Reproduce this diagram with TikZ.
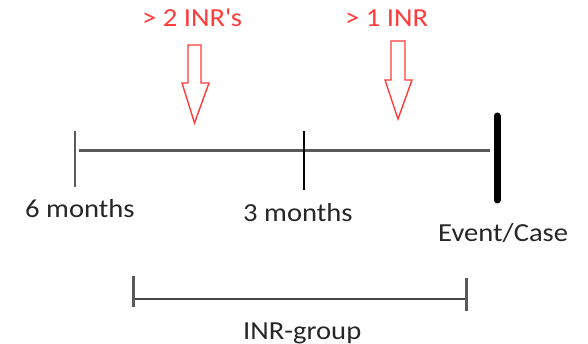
\documentclass[tikz,border=0pt]{standalone}
\usepackage{fontspec}
\setmainfont{Carlito}[FakeStretch=1.1]
\definecolor{inkred}{HTML}{FF3B3B}
\definecolor{axisgray}{HTML}{595959}
\definecolor{labelink}{HTML}{262626}
\tikzset{
  lbl/.style={font=\fontsize{26}{26}\selectfont, text=labelink, inner sep=0pt, anchor=base west},
  redlbl/.style={font=\fontsize{26}{26}\selectfont, text=inkred, inner sep=0pt, anchor=base west},
  hollowarrow/.style={draw=inkred, line width=1.4pt, fill=white, line join=miter},
  axis/.style={draw=axisgray, line width=3pt},
}
\begin{document}
\begin{tikzpicture}[x=1pt,y=-1pt]
  \useasboundingbox (0,0) rectangle (588,344);
  % timeline
  \coordinate (start) at (79,151);
  \coordinate (stop) at (490,151);
  \coordinate (sixtop) at (75,131);
  \coordinate (sixbot) at (75,187);
  \coordinate (threetop) at (304,131);
  \coordinate (threebot) at (304,190);
  \coordinate (eventtop) at (497,116);
  \coordinate (eventbot) at (497,200);
  \draw[axis] (start) -- (stop);
  \draw[draw=axisgray, line width=2.6pt] (sixtop) -- (sixbot);
  \draw[draw=black, line width=1.3pt] (threetop) -- (threebot);
  \draw[draw=black, line width=7pt, line cap=round] (eventtop) -- (eventbot);
  % labels
  \node[lbl] (six) at (25,218) {6 months};
  \node[lbl] (three) at (243,222) {3 months};
  \node[lbl] (event) at (438,242) {Event/Case};
  % group bracket
  \coordinate (gl) at (133,299);
  \coordinate (gr) at (466,299);
  \coordinate (gltop) at (133,276);
  \coordinate (glbot) at (133,307);
  \coordinate (grtop) at (466,278);
  \coordinate (grbot) at (466,311);
  \draw[draw=axisgray!80!black, line width=2pt] (gl) -- (gr);
  \draw[draw=axisgray, line width=3pt] (gltop) -- (glbot);
  \draw[draw=axisgray, line width=3pt] (grtop) -- (grbot);
  \node[lbl] (group) at (243,339) {INR-group};
  % red annotations
  \node[redlbl] (twoinr) at (142,27) {> 2 INR\textquotesingle s};
  \node[redlbl] (oneinr) at (345,27) {> 1 INR};
  \draw[hollowarrow] (188,45) -- (201,45) -- (201,83) -- (209,83) -- (194.5,123)
        -- (182,83) -- (188,83) -- cycle;
  \draw[hollowarrow] (391,41) -- (405,41) -- (405,80) -- (412,80) -- (398,119)
        -- (385,80) -- (391,80) -- cycle;
\end{tikzpicture}
\end{document}
